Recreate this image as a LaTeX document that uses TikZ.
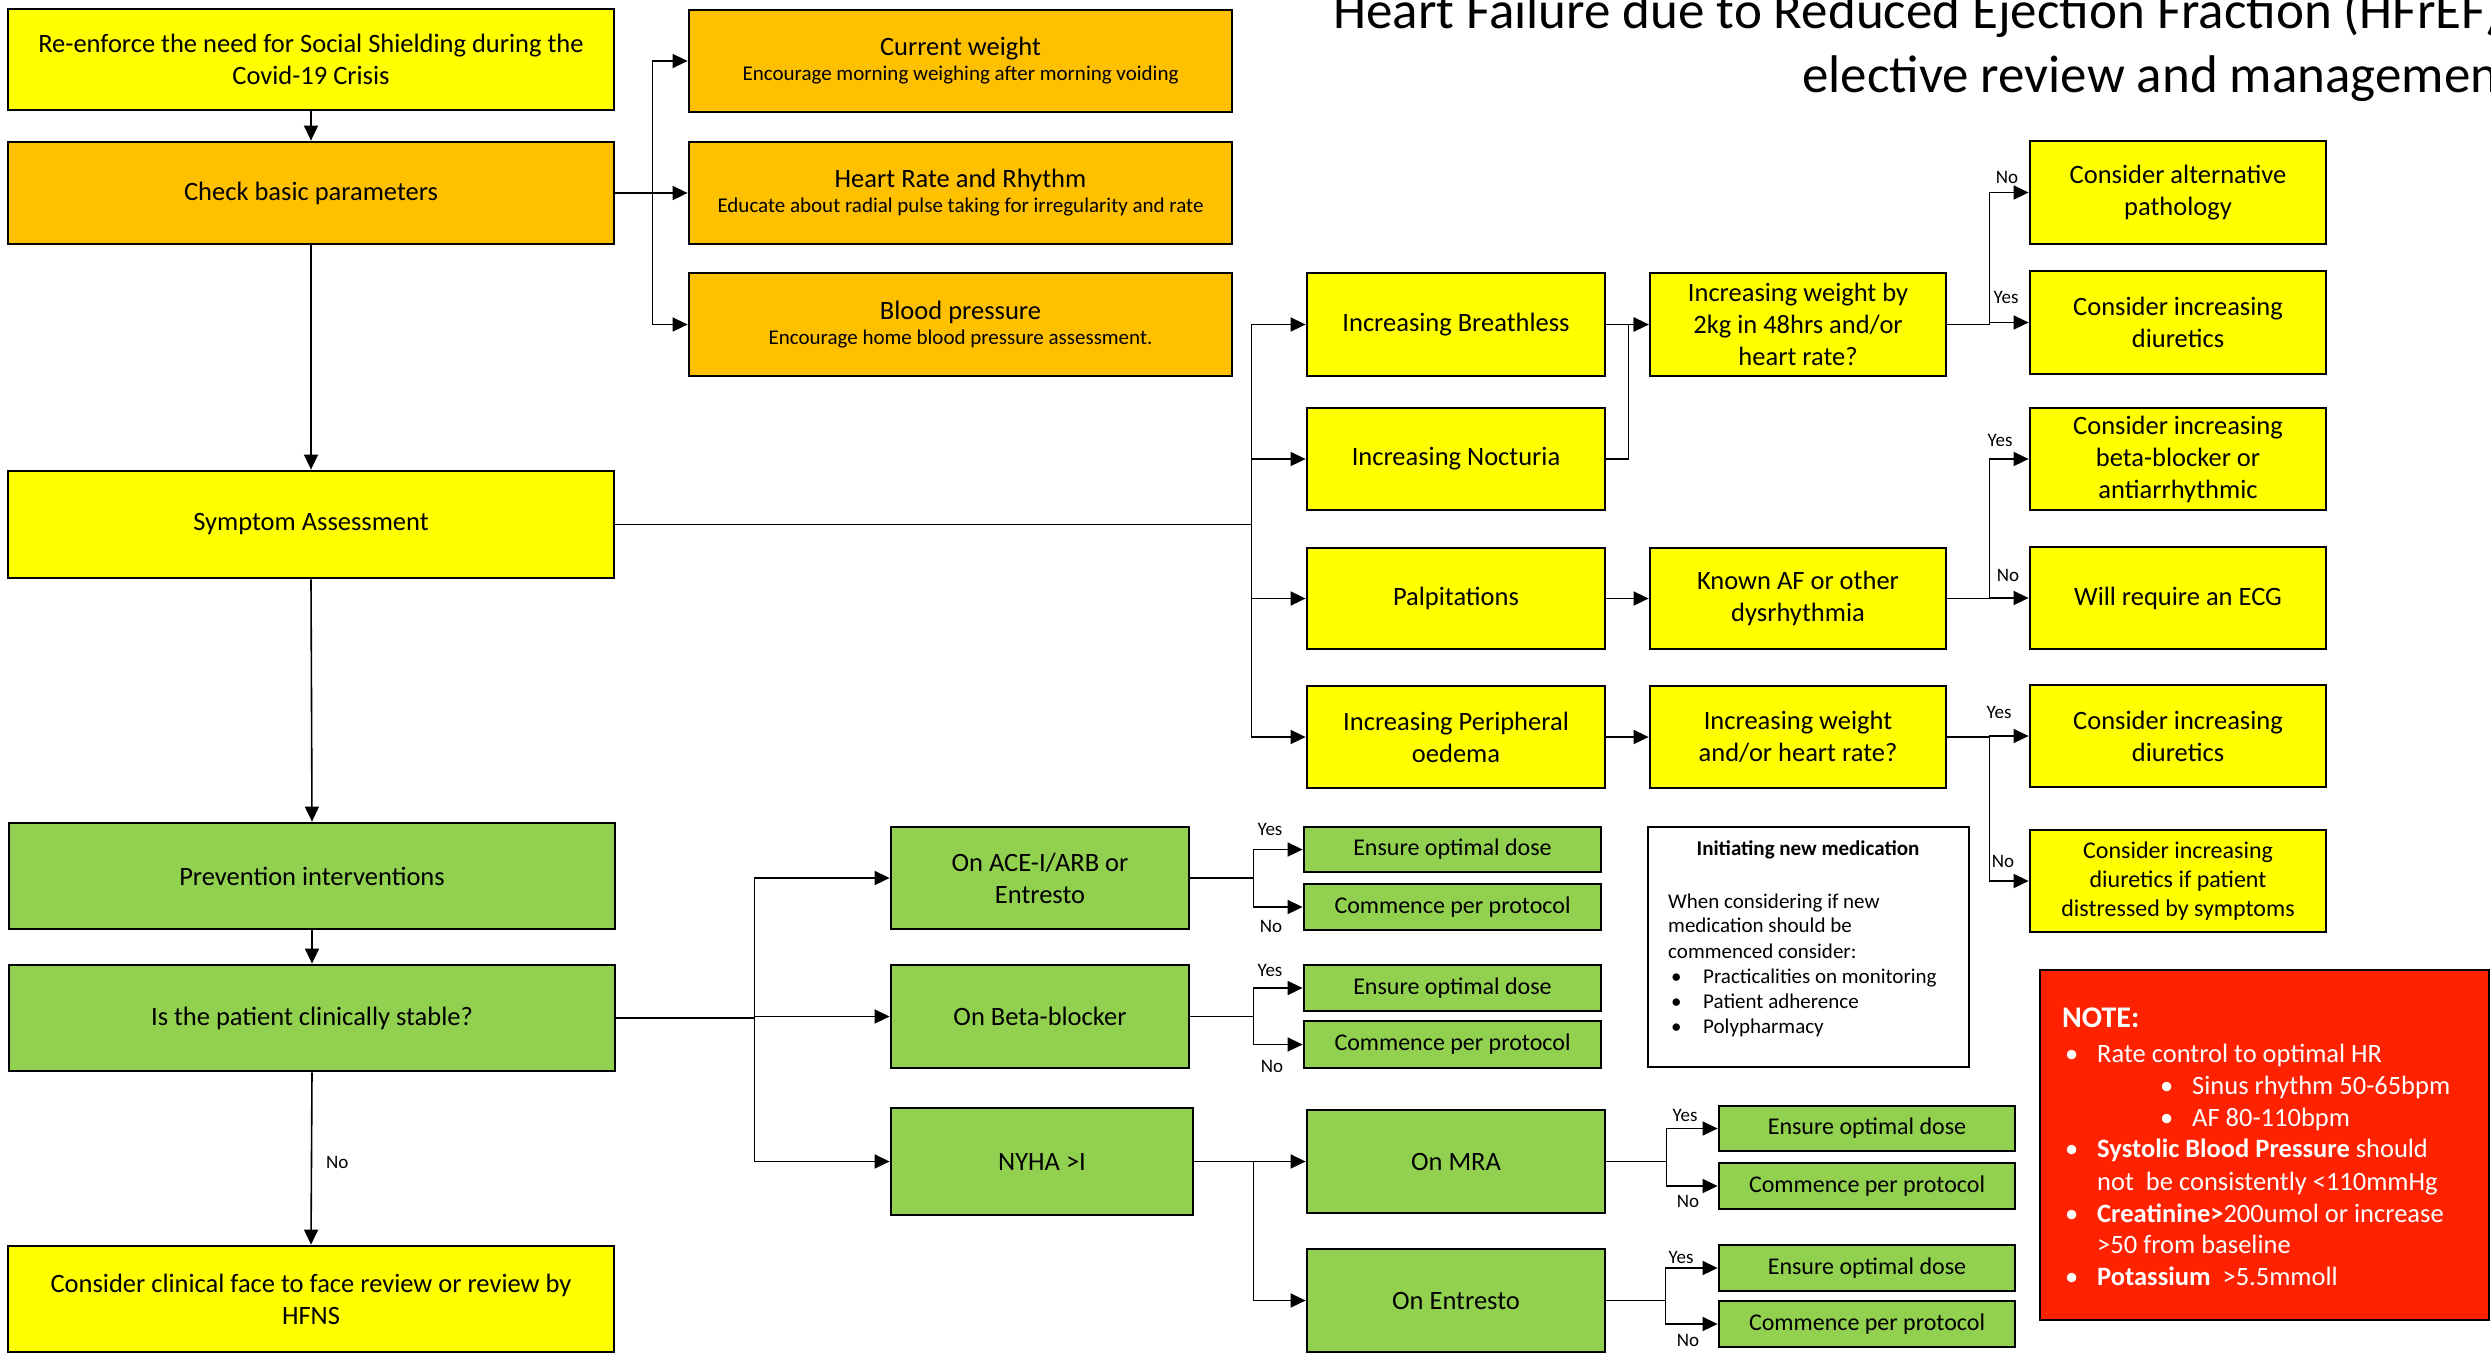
\documentclass[tikz,border=0pt]{standalone}
\usepackage{fontspec}
\setmainfont{Carlito}
\usetikzlibrary{arrows.meta}
\definecolor{hfyellow}{HTML}{FFFF00}
\definecolor{hforange}{HTML}{FFC000}
\definecolor{hfgreen}{HTML}{92D050}
\definecolor{hfred}{HTML}{FF2200}
\newcommand{\hfbox}[7]{\node[#2, minimum width={#5-#3}, minimum height={#6-#4}] (#1) at ({(#3+#5)/2},{(#4+#6)/2}) {#7};}
\tikzset{
  box/.style={draw=black, line width=2.8pt, align=center, inner sep=2pt, font=\fontsize{26.5}{32}\selectfont},
  ybox/.style={box, fill=hfyellow},
  obox/.style={box, fill=hforange, font=\fontsize{21}{25}\selectfont},
  gbox/.style={box, fill=hfgreen},
  sgbox/.style={box, fill=hfgreen, font=\fontsize{24}{29}\selectfont},
  sybox/.style={box, fill=hfyellow, font=\fontsize{24}{29}\selectfont},
  conn/.style={line width=1.6pt, draw=black},
  arr/.style={conn, -{Triangle[length=15pt,width=14pt]}},
  lab/.style={font=\fontsize{19}{22}\selectfont, inner sep=0pt},
  itxt/.style={font=\fontsize{21}{25}\selectfont, inner sep=0pt, anchor=base west},
  ntxt/.style={font=\fontsize{26.5}{32}\selectfont, text=white, inner sep=0pt, anchor=base west},
  ttl/.style={font=\fontsize{53}{64}\selectfont, inner sep=0pt, anchor=base west}
}
\begin{document}
\begin{tikzpicture}[x=1pt,y=-1pt]
\useasboundingbox (0,0) rectangle (2491,1355);
\fill[white] (0,0) rectangle (2491,1355);
\clip (0,0) rectangle (2491,1355);

% title
\node[ttl] (t1) at (1333,28) {Heart Failure due to Reduced Ejection Fraction (HFrEF)};
\node[ttl] (t2) at (1802,92) {elective review and management};

% left column
\hfbox{reenf}{ybox}{8}{9}{614}{110}{Re-enforce the need for Social Shielding during the\\Covid-19 Crisis}
\hfbox{check}{box,fill=hforange}{8}{142}{614}{244}{Check basic parameters}
\hfbox{symp}{ybox}{8}{471}{614}{578}{Symptom Assessment}
\hfbox{prev}{gbox}{9}{823}{615}{929}{Prevention interventions}
\hfbox{stable}{gbox}{9}{965}{615}{1071}{Is the patient clinically stable?}
\hfbox{face}{ybox}{8}{1246}{614}{1352}{Consider clinical face to face review or review by\\HFNS}

% orange
\hfbox{cw}{obox}{689}{10}{1232}{112}{{\fontsize{26.5}{25}\selectfont Current weight}\\Encourage morning weighing after morning voiding}
\hfbox{hr}{obox}{689}{142}{1232}{244}{{\fontsize{26.5}{25}\selectfont Heart Rate and Rhythm}\\Educate about radial pulse taking for irregularity and rate}
\hfbox{bp}{obox}{689}{273}{1232}{376}{{\fontsize{26.5}{25}\selectfont Blood pressure}\\Encourage home blood pressure assessment.}

% symptoms
\hfbox{breath}{ybox}{1307}{273}{1605}{376}{Increasing Breathless}
\hfbox{noct}{ybox}{1307}{408}{1605}{510}{Increasing Nocturia}
\hfbox{palp}{ybox}{1307}{548}{1605}{649}{Palpitations}
\hfbox{oed}{ybox}{1307}{686}{1605}{788}{Increasing Peripheral\\oedema}

\hfbox{wt}{ybox}{1650}{273}{1946}{376}{Increasing weight by\\2kg in 48hrs and/or\\heart rate?}
\hfbox{af}{ybox}{1650}{548}{1946}{649}{Known AF or other\\dysrhythmia}
\hfbox{wt2}{ybox}{1650}{686}{1946}{788}{Increasing weight\\and/or heart rate?}

\hfbox{alt}{ybox}{2030}{141}{2326}{244}{Consider alternative\\pathology}
\hfbox{diu1}{ybox}{2030}{271}{2326}{374}{Consider increasing\\diuretics}
\hfbox{bb}{ybox}{2030}{408}{2326}{510}{Consider increasing\\beta-blocker or\\antiarrhythmic}
\hfbox{ecg}{ybox}{2030}{547}{2326}{649}{Will require an ECG}
\hfbox{diu2}{ybox}{2030}{685}{2326}{787}{Consider increasing\\diuretics}
\hfbox{diu3}{sybox}{2030}{830}{2326}{932}{Consider increasing\\diuretics if patient\\distressed by symptoms}

% green medication
\hfbox{ace}{gbox}{891}{827}{1189}{929}{On ACE-I/ARB or\\Entresto}
\hfbox{beta}{gbox}{891}{965}{1189}{1068}{On Beta-blocker}
\hfbox{nyha}{gbox}{891}{1108}{1193}{1215}{NYHA >I}
\hfbox{ens1}{sgbox}{1304}{827}{1601}{872}{Ensure optimal dose}
\hfbox{com1}{sgbox}{1304}{884}{1601}{930}{Commence per protocol}
\hfbox{ens2}{sgbox}{1304}{965}{1601}{1011}{Ensure optimal dose}
\hfbox{com2}{sgbox}{1304}{1021}{1601}{1068}{Commence per protocol}
\hfbox{mra}{gbox}{1307}{1110}{1605}{1213}{On MRA}
\hfbox{ent}{gbox}{1307}{1249}{1605}{1352}{On Entresto}
\hfbox{ens3}{sgbox}{1719}{1106}{2015}{1151}{Ensure optimal dose}
\hfbox{com3}{sgbox}{1719}{1163}{2015}{1209}{Commence per protocol}
\hfbox{ens4}{sgbox}{1719}{1245}{2015}{1291}{Ensure optimal dose}
\hfbox{com4}{sgbox}{1719}{1301}{2015}{1347}{Commence per protocol}

% initiating new medication
\hfbox{init}{box,fill=white}{1648}{827}{1969}{1067}{}
\node[itxt, anchor=base, font=\fontsize{21}{25}\selectfont\bfseries] (i0) at (1808,855) {Initiating new medication};
\node[itxt] (i1) at (1668,908) {When considering if new};
\node[itxt] (i2) at (1668,932) {medication should be};
\node[itxt] (i3) at (1668,958) {commenced consider:};
\node[itxt] (ib1) at (1671,983) {•};
\node[itxt] (ib2) at (1671,1008) {•};
\node[itxt] (ib3) at (1671,1033) {•};
\node[itxt] (i4) at (1703,983) {Practicalities on monitoring};
\node[itxt] (i5) at (1703,1008) {Patient adherence};
\node[itxt] (i6) at (1703,1033) {Polypharmacy};

% note
\hfbox{note}{box,fill=hfred}{2040}{970}{2489}{1320}{}
\node[ntxt, font=\fontsize{30}{36}\selectfont\bfseries] (n0) at (2062,1027) {NOTE:};
\node[ntxt] (nb1) at (2065,1062) {•};
\node[ntxt] (n1) at (2097,1062) {Rate control to optimal HR};
\node[ntxt] (nb2) at (2160,1094) {•};
\node[ntxt] (n2) at (2192,1094) {Sinus rhythm 50-65bpm};
\node[ntxt] (nb3) at (2160,1126) {•};
\node[ntxt] (n3) at (2192,1126) {AF 80-110bpm};
\node[ntxt] (nb4) at (2065,1157) {•};
\node[ntxt] (n4) at (2097,1157) {\textbf{Systolic Blood Pressure} should};
\node[ntxt] (n5) at (2097,1190) {not\ \ be consistently <110mmHg};
\node[ntxt] (nb5) at (2065,1222) {•};
\node[ntxt] (n6) at (2097,1222) {\textbf{Creatinine>}200umol or increase};
\node[ntxt] (n7) at (2097,1253) {>50 from baseline};
\node[ntxt] (nb6) at (2065,1285) {•};
\node[ntxt] (n8) at (2097,1285) {\textbf{Potassium}\ \ >5.5mmoll};

% connectors left column
\draw[arr] (reenf.south) -- (check.north);
\draw[arr] (check.south) -- (symp.north);
\draw[arr] (symp.south) -- (prev.north);
\draw[arr] (prev.south) -- (stable.north);
\draw[arr] (stable.south) -- (face.north);
\node[lab, anchor=west] (lno) at (326,1162) {No};

% check -> orange
\draw[arr] (check.east) -- ++(37,0) |- (cw.west);
\draw[arr] (check.east) -- (hr.west);
\draw[arr] (check.east) -- ++(37,0) |- (bp.west);

% symptom -> symptoms
\draw[arr] (symp.east) -- ++(636,0) |- (breath.west);
\draw[arr] (symp.east) -- ++(636,0) |- (noct.west);
\draw[arr] (symp.east) -- ++(636,0) |- (palp.west);
\draw[arr] (symp.east) -- ++(636,0) |- (oed.west);

\draw[arr] (breath.east) -- (wt.west);
\draw[arr] (noct.east) -- ++(22,0) |- (wt.west);
\draw[arr] (palp.east) -- (af.west);
\draw[arr] (oed.east) -- (wt2.west);

\draw[arr] (wt.east) -- ++(42,0) |- (alt.west);
\draw[arr] (wt.east) -- ++(42,0) |- (diu1.west);
\draw[arr] (af.east) -- ++(42,0) |- (bb.west);
\draw[arr] (af.east) -- ++(42,0) |- (ecg.west);
\draw[arr] (wt2.east) -- ++(42,0) |- (diu2.west);
\draw[arr] (wt2.east) -- ++(42,0) |- (diu3.west);

\node[lab] (l1) at (2007,177) {No};
\node[lab] (l2) at (2006,297) {Yes};
\node[lab] (l3) at (2000,440) {Yes};
\node[lab] (l4) at (2008,575) {No};
\node[lab] (l5) at (1999,712) {Yes};
\node[lab] (l6) at (2003,861) {No};

% stable -> medications
\draw[arr] (stable.east) -- ++(138,0) |- (ace.west);
\draw[arr] (stable.east) -- ++(138,0) |- (beta.west);
\draw[arr] (stable.east) -- ++(138,0) |- (nyha.west);

\draw[arr] (ace.east) -- ++(63,0) |- (ens1.west);
\draw[arr] (ace.east) -- ++(63,0) |- (com1.west);
\draw[arr] (beta.east) -- ++(63,0) |- (ens2.west);
\draw[arr] (beta.east) -- ++(63,0) |- (com2.west);
\draw[arr] (nyha.east) -- ++(59,0) |- (mra.west);
\draw[arr] (nyha.east) -- ++(59,0) |- (ent.west);
\draw[arr] (mra.east) -- ++(60,0) |- (ens3.west);
\draw[arr] (mra.east) -- ++(60,0) |- (com3.west);
\draw[arr] (ent.east) -- ++(59,0) |- (ens4.west);
\draw[arr] (ent.east) -- ++(59,0) |- (com4.west);

\node[lab] (l7) at (1270,829) {Yes};
\node[lab] (l8) at (1271,926) {No};
\node[lab] (l9) at (1270,970) {Yes};
\node[lab] (l10) at (1272,1066) {No};
\node[lab] (l11) at (1685,1115) {Yes};
\node[lab] (l12) at (1688,1201) {No};
\node[lab] (l13) at (1681,1257) {Yes};
\node[lab] (l14) at (1688,1340) {No};
\end{tikzpicture}
\end{document}
